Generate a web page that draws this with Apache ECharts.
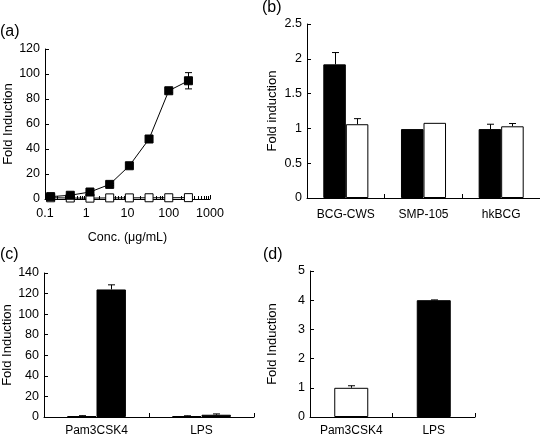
<!DOCTYPE html>
<html><head><meta charset="utf-8">
<script src="https://cdn.jsdelivr.net/npm/echarts@6/dist/echarts.min.js"></script>
<style>html,body{margin:0;padding:0;background:#fff}#c{width:540px;height:438px}</style>
</head><body><div id="c"></div>
<script>
// Panel (a)
const concA = [0.137, 0.41, 1.23, 3.7, 11.1, 33.3, 100, 300];
const filledA = [1.9, 3.0, 5.6, 11.7, 26.6, 48, 86.6, 94.6];
const filledErrA = [0.4, 0.5, 0.6, 0.8, 1.0, 1.2, 1.5, 6.5];
const openA = [1.0, 0.8, 0.7, 0.9, 0.9, 1.0, 1.0, 1.1];
const openErrA = [0.3, 0.3, 0.3, 0.3, 0.3, 0.3, 0.3, 0.3];
const xTicksA = ['0.1', '1', '10', '100', '1000'];
const xMinorTicksA = [0.2, 0.3, 0.4, 0.5, 0.6, 0.7, 0.8, 0.9,
  2, 3, 4, 5, 6, 7, 8, 9, 20, 30, 40, 50, 60, 70, 80, 90,
  200, 300, 400, 500, 600, 700, 800, 900];
// Panel (b)
const catsB = ['BCG-CWS', 'SMP-105', 'hkBCG'];
const blackB = [1.92, 0.99, 0.99];
const blackErrB = [0.17, 0, 0.07];
const whiteB = [1.06, 1.08, 1.03];
const whiteErrB = [0.08, 0, 0.04];
// Panel (c)
const catsC = ['Pam3CSK4', 'LPS'];
const whiteC = [0.8, 0.9];
const whiteErrC = [0.5, 0.3];
const blackC = [124, 2.2];
const blackErrC = [4.5, 0.8];
// Panel (d)
const catsD = ['Pam3CSK4', 'LPS'];
const valsD = [1.0, 4.0];
const errD = [0.07, 0.01];
const fillD = ['#ffffff', '#000000'];

const FONT = "'Liberation Sans', Arial, Helvetica, sans-serif";
const chart = echarts.init(document.getElementById('c'), null, {renderer: 'canvas'});

const axisLineStyle = {show: true, lineStyle: {color: '#000', width: 1}};
function yAxis(grid, max, interval, name, gap) {
  return {
    type: 'value', gridIndex: grid, min: 0, max: max, interval: interval,
    name: name, nameLocation: 'middle', nameGap: gap, nameRotate: 90,
    nameTextStyle: {fontFamily: FONT, fontSize: 13, color: '#000'},
    axisLine: axisLineStyle,
    axisTick: {show: true, inside: true, length: 4, lineStyle: {color: '#000'}},
    axisLabel: {fontFamily: FONT, fontSize: 12.5, color: '#000', margin: 5},
    splitLine: {show: false}
  };
}
function catAxis(grid, cats, margin) {
  return {
    type: 'category', gridIndex: grid, data: cats,
    axisLine: axisLineStyle,
    axisTick: {show: true, inside: true, length: 4, lineStyle: {color: '#000'}},
    axisLabel: {fontFamily: FONT, fontSize: 12, color: '#000', margin: margin, interval: 0},
    splitLine: {show: false}
  };
}

function barErr(nBars, gapFrac, idx, capW, barWidthPx) {
  return function (params, api) {
    const x = api.value(0), v = api.value(1), e = api.value(2);
    if (!e) return null;
    const band = api.size([1, 0])[0];
    const bw = barWidthPx || band * (1 - gapFrac) / nBars;
    const off = (idx - (nBars - 1) / 2) * bw;
    const p0 = api.coord([x, v]);
    const p1 = api.coord([x, v + e]);
    const cx = Math.round(p0[0] + off) + 0.5;
    return {
      type: 'group', children: [
        {type: 'line', shape: {x1: cx, y1: p0[1], x2: cx, y2: p1[1]}, style: {stroke: '#000', lineWidth: 1}},
        {type: 'line', shape: {x1: cx - capW / 2, y1: p1[1], x2: cx + capW / 2, y2: p1[1]}, style: {stroke: '#000', lineWidth: 1}}
      ]
    };
  };
}
function pointErr(capW) {
  return function (params, api) {
    const x = api.value(0), v = api.value(1), e = api.value(2);
    const p0 = api.coord([x, v - e]);
    const p1 = api.coord([x, v + e]);
    const cx = Math.round(p0[0]) + 0.5;
    return {
      type: 'group', children: [
        {type: 'line', shape: {x1: cx, y1: p0[1], x2: cx, y2: p1[1]}, style: {stroke: '#000', lineWidth: 1}},
        {type: 'line', shape: {x1: cx - capW / 2, y1: p1[1], x2: cx + capW / 2, y2: p1[1]}, style: {stroke: '#000', lineWidth: 1}},
        {type: 'line', shape: {x1: cx - capW / 2, y1: p0[1], x2: cx + capW / 2, y2: p0[1]}, style: {stroke: '#000', lineWidth: 1}}
      ]
    };
  };
}
function minorTick(params, api) {
  const p = api.coord([api.value(0), 0]);
  const cx = Math.round(p[0]) + 0.5;
  return {type: 'line', shape: {x1: cx, y1: p[1] + 1, x2: cx, y2: p[1] - 3}, style: {stroke: '#000', lineWidth: 1}};
}

const option = {
  animation: false,
  backgroundColor: '#fff',
  textStyle: {fontFamily: FONT},
  grid: [
    {left: 45, top: 49, width: 165, height: 150, outerBoundsMode: 'none'},
    {left: 307, top: 24, width: 233, height: 174, outerBoundsMode: 'none'},
    {left: 44, top: 273, width: 210, height: 144, outerBoundsMode: 'none'},
    {left: 310, top: 271, width: 165, height: 146, outerBoundsMode: 'none'}
  ],
  xAxis: [
    {
      type: 'log', gridIndex: 0, logBase: 10, min: 0.1, max: 1000,
      name: 'Conc. (μg/mL)', nameLocation: 'middle', nameGap: 32,
      nameTextStyle: {fontFamily: FONT, fontSize: 12.5, color: '#000'},
      axisLine: axisLineStyle,
      axisTick: {show: true, inside: true, length: 4, lineStyle: {color: '#000'}},
      axisLabel: {fontFamily: FONT, fontSize: 12.5, color: '#000', margin: 8,
        formatter: function (v) { const s = String(+(+v).toPrecision(3)); return xTicksA.indexOf(s) >= 0 ? s : ''; }},
      splitLine: {show: false}
    },
    catAxis(1, catsB, 11),
    catAxis(2, catsC, 8),
    catAxis(3, catsD, 8)
  ],
  yAxis: [
    yAxis(0, 120, 20, 'Fold Induction', 30),
    yAxis(1, 2.5, 0.5, 'Fold induction', 28),
    yAxis(2, 140, 20, 'Fold Induction', 29),
    yAxis(3, 5, 1, 'Fold Induction', 31)
  ],
  series: [
    {type: 'custom', xAxisIndex: 0, yAxisIndex: 0, renderItem: minorTick, z: 1, silent: true,
      data: xMinorTicksA.map(v => [v])},
    // (a) open
    {type: 'custom', xAxisIndex: 0, yAxisIndex: 0, renderItem: pointErr(5), z: 2,
      data: concA.map((c, i) => [c, openA[i], openErrA[i]])},
    {type: 'line', xAxisIndex: 0, yAxisIndex: 0, z: 3, symbol: 'rect', symbolSize: 8,
      itemStyle: {color: '#fff', borderColor: '#000', borderWidth: 1},
      lineStyle: {color: '#000', width: 1},
      data: concA.map((c, i) => [c, openA[i]])},
    // (a) filled
    {type: 'custom', xAxisIndex: 0, yAxisIndex: 0, renderItem: pointErr(7), z: 4,
      data: concA.map((c, i) => [c, filledA[i], filledErrA[i]])},
    {type: 'line', xAxisIndex: 0, yAxisIndex: 0, z: 5, symbol: 'rect', symbolSize: 8,
      itemStyle: {color: '#000', borderColor: '#000', borderWidth: 1},
      lineStyle: {color: '#000', width: 1},
      data: concA.map((c, i) => [c, filledA[i]])},
    // (b)
    {type: 'bar', xAxisIndex: 1, yAxisIndex: 1, data: blackB, barGap: '0%', barCategoryGap: '42%',
      itemStyle: {color: '#000', borderColor: '#000', borderWidth: 1}},
    {type: 'bar', xAxisIndex: 1, yAxisIndex: 1, data: whiteB, barGap: '0%', barCategoryGap: '42%',
      itemStyle: {color: '#fff', borderColor: '#000', borderWidth: 1}},
    {type: 'custom', xAxisIndex: 1, yAxisIndex: 1, renderItem: barErr(2, 0.42, 0, 7), z: 1,
      data: blackB.map((v, i) => [i, v, blackErrB[i]])},
    {type: 'custom', xAxisIndex: 1, yAxisIndex: 1, renderItem: barErr(2, 0.42, 1, 7), z: 1,
      data: whiteB.map((v, i) => [i, v, whiteErrB[i]])},
    // (c)
    {type: 'bar', xAxisIndex: 2, yAxisIndex: 2, data: whiteC, barGap: '0%', barCategoryGap: '44%',
      itemStyle: {color: '#fff', borderColor: '#000', borderWidth: 1}},
    {type: 'bar', xAxisIndex: 2, yAxisIndex: 2, data: blackC, barGap: '0%', barCategoryGap: '44%',
      itemStyle: {color: '#000', borderColor: '#000', borderWidth: 1}},
    {type: 'custom', xAxisIndex: 2, yAxisIndex: 2, renderItem: barErr(2, 0.44, 0, 7), z: 1,
      data: whiteC.map((v, i) => [i, v, whiteErrC[i]])},
    {type: 'custom', xAxisIndex: 2, yAxisIndex: 2, renderItem: barErr(2, 0.44, 1, 7), z: 1,
      data: blackC.map((v, i) => [i, v, blackErrC[i]])},
    // (d)
    {type: 'bar', xAxisIndex: 3, yAxisIndex: 3, barWidth: 34,
      itemStyle: {borderColor: '#000', borderWidth: 1},
      data: valsD.map((v, i) => ({value: v, itemStyle: {color: fillD[i]}}))},
    {type: 'custom', xAxisIndex: 3, yAxisIndex: 3, renderItem: barErr(1, 0, 0, 7, 34), z: 1,
      data: valsD.map((v, i) => [i, v, errD[i]])}
  ],
  graphic: [
    {type: 'text', left: 0, top: 24, style: {text: '(a)', font: "16px " + FONT, fill: '#000'}},
    {type: 'text', left: 262, top: 0, style: {text: '(b)', font: "16px " + FONT, fill: '#000'}},
    {type: 'text', left: 0, top: 247, style: {text: '(c)', font: "16px " + FONT, fill: '#000'}},
    {type: 'text', left: 263, top: 247, style: {text: '(d)', font: "16px " + FONT, fill: '#000'}}
  ]
};
chart.setOption(option);
</script>
</body></html>
